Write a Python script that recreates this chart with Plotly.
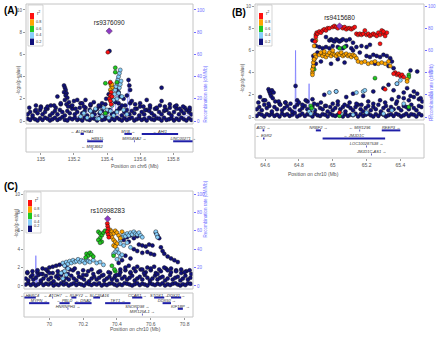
import plotly.graph_objects as go

W, H = 440, 337

# ======================= DATA =======================
# ---------- Panel A : chr6 ----------
A_bg_x = [134.92,134.935,134.95,134.965,134.98,134.995,135.01,135.025,135.04,135.055,135.07,135.085,135.10,135.115,135.13,135.145,135.16,135.175,135.19,135.205,135.22,135.235,135.25,135.265,135.28,135.295,135.31,135.325,135.34,135.355,135.37,135.385,135.40,135.415,135.43,135.445,135.46,135.475,135.49,135.505,135.52,135.535,135.55,135.565,135.58,135.595,135.61,135.625,135.64,135.655,135.67,135.685,135.70,135.715,135.73,135.745,135.76,135.775,135.79,135.805,135.82,135.835,135.85,135.865,135.88,135.895,135.91]
A_bg_low = [0.2,0.1,0.3,0.15,0.05,0.25,0.1,0.3,0.2,0.05,0.15,0.3,0.1,0.2,0.35,0.1,0.05,0.25,0.15,0.3,0.1,0.2,0.05,0.3,0.15,0.1,0.25,0.2,0.05,0.3,0.1,0.15,0.25,0.05,0.2,0.1,0.3,0.15,0.05,0.25,0.1,0.2,0.3,0.05,0.15,0.25,0.1,0.2,0.05,0.3,0.15,0.1,0.25,0.2,0.05,0.3,0.1,0.15,0.25,0.05,0.2,0.1,0.3,0.15,0.05,0.25,0.1]
A_bg_mid = [0.6,0.8,0.5,0.9,0.7,1.0,0.6,0.8,1.1,0.5,0.7,0.9,0.6,1.0,0.8,0.5,0.9,0.7,1.1,0.6,0.8,1.2,0.7,0.9,0.5,1.0,0.8,0.6,1.1,0.7,0.9,0.5,0.8,1.0,0.6,0.7,0.9,1.1,0.5,0.8,1.0,0.6,0.9,0.7,1.1,0.5,0.8,0.6,1.0,0.9,0.7,0.5,1.1,0.8,0.6,0.9,1.0,0.7,0.5,0.8,1.1,0.6,0.9,0.7,1.0,0.8,0.6]
A_hi_x = [134.93,134.97,135.0,135.03,135.06,135.09,135.12,135.18,135.21,135.24,135.27,135.3,135.33,135.36,135.39,135.45,135.48,135.51,135.54,135.57,135.6,135.63,135.66,135.69,135.72,135.75,135.78,135.81,135.84,135.87,135.9]
A_hi_y = [1.2,1.0,1.3,1.1,1.4,1.2,1.5,1.3,1.1,1.6,1.2,1.4,1.0,1.3,1.5,1.7,1.2,1.4,1.6,1.1,1.3,1.0,1.2,1.1,1.4,1.0,1.2,1.3,1.1,1.2,1.0]
A_nav_x = [135.14,135.145,135.15,135.14,135.155,135.15,135.16,135.145,135.17,135.155,135.165,135.10,135.08,135.20,135.22,135.25,135.27,135.30,135.32,135.35,135.26,135.19,135.37,135.395,135.41,135.415,135.47,135.48,135.50,135.52,135.53,135.535,135.54,135.55,135.57,135.60,135.62,135.64,135.66,135.70,135.73,135.73,135.75,135.78,135.82,135.86,135.90,135.04,135.00,134.97,135.12,135.47,135.44,135.46,135.49]
A_nav_y = [3.2,3.0,2.8,2.6,2.5,2.3,2.1,1.9,1.7,1.5,1.3,2.2,1.4,1.8,1.9,1.6,1.9,1.5,1.7,1.4,1.3,1.4,1.6,2.0,2.4,6.3,2.6,2.2,2.0,2.3,3.7,3.2,2.8,1.8,1.5,1.6,1.3,1.9,1.4,1.2,3.0,1.8,1.3,1.5,1.4,1.3,1.2,1.3,1.2,1.4,1.6,1.6,1.9,2.9,1.4]
A_lb_x = [135.24,135.26,135.28,135.30,135.31,135.33,135.34,135.36,135.37,135.38,135.39,135.40,135.41,135.42,135.43,135.44,135.445,135.45,135.455,135.46,135.465,135.47,135.475,135.48,135.46,135.47,135.475,135.48,135.485,135.49,135.50,135.52,135.44,135.46,135.35]
A_lb_y = [0.4,0.7,0.3,0.9,0.5,1.1,0.2,0.8,0.4,1.2,0.6,1.0,0.3,0.9,1.4,1.9,2.4,2.8,3.1,3.4,3.7,4.0,4.3,4.6,2.0,2.5,3.0,3.3,3.6,2.2,1.0,0.6,0.5,0.8,0.2]
A_gr_x = [135.45,135.45,135.39,135.46,135.39]
A_gr_y = [4.8,4.4,3.4,3.5,0.7]
A_or_x = [135.42,135.425,135.43,135.42,135.43]
A_or_y = [3.4,3.2,3.0,2.8,3.3]
A_rd_x = [135.405,135.42,135.425,135.42,135.415,135.42,135.425,135.43]
A_rd_y = [6.2,3.5,2.6,2.3,2.0,1.8,1.5,2.2]
A_lead_name = ["rs9376090"]
A_lead_x = [135.413]
A_lead_y = [8.1]
A_rec_x = [134.91,134.95,135.0,135.05,135.1,135.13,135.15,135.2,135.25,135.3,135.33,135.35,135.38,135.4,135.43,135.45,135.46,135.47,135.5,135.52,135.53,135.54,135.56,135.6,135.65,135.7,135.75,135.8,135.85,135.9,135.92]
A_rec_y = [2,3,1,2,4,8,2,3,5,10,3,6,2,4,12,3,40,5,8,3,35,4,2,6,3,5,2,4,3,6,2]
A_gene_name = ["← ALDH8A1","MYB →","← AHI1","← HBS1L","MIR548A2 →","LINC00271 →","← MIR3662"]
A_gene_start = [135.24,135.505,135.61,135.28,135.563,135.80,135.308]
A_gene_end = [135.26,135.55,135.83,135.375,135.567,135.92,135.312]
A_gene_row = [1,1,1,2,2,2,3]
A_tickvals = [135.0,135.2,135.4,135.6,135.8]
A_ticktext = ["135","135.2","135.4","135.6","135.8"]

# ---------- Panel B : chr10 ----------
B_bg_x = [64.55,64.565,64.58,64.595,64.61,64.625,64.64,64.655,64.67,64.685,64.70,64.715,64.73,64.745,64.76,64.775,64.79,64.805,64.82,64.835,64.85,64.865,64.88,64.895,64.91,64.925,64.94,64.955,64.97,64.985,65.00,65.015,65.03,65.045,65.06,65.075,65.09,65.105,65.12,65.135,65.15,65.165,65.18,65.195,65.21,65.225,65.24,65.255,65.27,65.285,65.30,65.315,65.33,65.345,65.36,65.375,65.39,65.405,65.42,65.435,65.45,65.465,65.48,65.495,65.51,65.525]
B_bg_low = [0.1,0.3,0.2,0.05,0.25,0.15,0.3,0.1,0.2,0.05,0.3,0.15,0.25,0.1,0.2,0.35,0.05,0.15,0.3,0.1,0.25,0.2,0.05,0.3,0.15,0.1,0.25,0.2,0.05,0.3,0.15,0.1,0.2,0.3,0.05,0.25,0.1,0.2,0.15,0.3,0.05,0.25,0.1,0.2,0.3,0.15,0.05,0.25,0.1,0.3,0.2,0.05,0.15,0.25,0.1,0.3,0.2,0.05,0.15,0.3,0.1,0.25,0.2,0.05,0.3,0.15]
B_bg_mid = [0.7,0.9,0.6,1.1,0.8,1.0,0.5,0.9,0.7,1.2,0.6,0.8,1.0,0.7,0.5,0.9,1.1,0.6,0.8,1.0,0.7,0.5,0.9,0.6,1.1,0.8,0.7,1.0,0.5,0.9,0.6,0.8,1.1,0.7,0.9,0.5,1.0,0.8,0.6,0.9,1.1,0.7,0.5,0.8,1.0,0.6,0.9,0.7,1.1,0.5,0.8,1.0,0.6,0.9,0.7,1.2,0.8,0.6,1.0,0.9,0.7,1.1,0.8,0.6,1.0,0.9]
B_hi_x = [64.56,64.59,64.62,64.66,64.69,64.72,64.75,64.79,64.82,64.85,64.89,64.93,64.96,65.0,65.03,65.07,65.1,65.14,65.17,65.21,65.24,65.28,65.31,65.35,65.38,65.42,65.45,65.48,65.51,65.53]
B_hi_y = [1.3,1.5,1.2,1.4,1.1,1.3,1.2,1.5,1.1,1.4,1.2,1.3,1.0,1.2,1.4,1.1,1.3,1.2,1.1,1.4,1.2,1.5,1.3,1.6,1.4,1.7,1.5,1.8,1.6,1.4]
B_nav_x = [64.62,64.625,64.63,64.635,64.64,64.645,64.65,64.60,64.57,64.68,64.72,64.78,64.80,64.84,64.88,64.95,65.02,65.08,65.12,65.18,65.24,65.30,65.33,65.36,65.39,65.42,65.44,65.46,65.48,65.50,65.52,65.46,65.50,65.38,
           64.98,64.99,65.00,65.01,65.02,65.03,65.04,65.05,65.06,65.08,65.10,65.12,64.96,
           64.90,64.92,64.94,64.96,64.98,65.00,65.03,65.06,65.08,65.11,65.14,65.17,65.20,65.22,65.12,65.16,64.93,64.99,65.03,65.07,
           65.20,65.22,65.24,65.26,65.28,65.30,65.32,65.34,65.35,65.33,65.25,65.36,
           64.88,64.885,64.89,64.90,64.91]
B_nav_y = [2.5,2.3,2.1,1.9,2.4,1.7,2.2,1.5,1.8,1.4,1.3,2.8,1.3,1.5,1.6,2.0,2.3,1.8,2.1,1.9,2.3,2.6,2.9,2.4,1.8,2.2,2.6,1.9,2.3,2.1,1.7,4.2,4.1,3.0,
           6.9,7.0,6.9,6.8,7.0,6.9,6.8,6.9,7.0,6.9,7.0,6.7,7.2,
           6.4,6.3,6.2,6.3,6.2,6.4,6.3,6.2,6.4,6.2,6.3,6.4,6.3,6.5,6.0,5.8,5.0,4.8,5.2,4.9,
           5.5,5.4,5.6,5.5,5.4,5.6,5.5,5.3,5.0,4.6,4.8,4.4,
           6.9,5.5,5.2,4.8,5.8]
B_lb_x = [64.98,65.02,65.14,65.18,65.19,65.38,65.40,64.86,64.87,64.88,65.12,65.20,65.30,65.35,65.42,65.05]
B_lb_y = [2.2,2.3,2.2,2.3,2.4,3.0,3.3,0.5,0.3,0.7,0.2,0.4,0.3,0.6,1.2,0.3]
B_gr_x = [64.885,64.89,65.04,65.07,65.25,65.45,65.45,64.87,64.875,65.04,65.45]
B_gr_y = [4.5,4.3,6.2,6.3,3.5,3.8,3.6,1.0,0.8,0.1,0.9]
B_or_x = [64.89,64.90,64.895,64.90,64.92,64.93,64.94,64.95,64.96,64.97,64.98,64.99,65.00,65.01,65.02,65.03,65.04,65.05,65.06,65.07,65.08,65.09,65.10,65.11,65.12,65.13,65.14,64.95,65.00,
          65.15,65.17,65.19,65.21,65.23,65.25,65.27,65.29,65.31,65.33,65.34,
          64.88,64.88,64.885,64.885,64.89,64.88,65.44,65.44]
B_or_y = [6.4,6.9,5.6,5.4,5.6,5.8,5.5,5.7,5.4,5.6,5.8,5.5,5.7,5.6,5.5,5.7,5.6,5.8,5.5,5.6,5.7,5.5,5.6,5.4,5.6,5.5,5.3,5.9,6.0,
          5.0,4.9,5.0,4.8,4.9,5.0,4.8,4.9,4.8,5.0,4.6,
          4.0,4.3,4.6,4.9,5.2,3.8,3.4,3.2]
B_rd_x = [64.90,64.905,64.91,64.92,64.93,64.94,64.95,64.96,64.97,64.98,65.00,65.01,65.02,65.03,65.05,65.06,65.07,65.08,65.09,65.10,65.11,65.12,65.13,64.90,64.895,
          65.14,65.15,65.16,65.17,65.18,65.19,65.20,65.21,65.22,65.23,65.24,65.25,65.26,65.27,65.28,65.29,65.30,65.31,65.32,65.30,
          65.37,65.38,65.39,65.40,65.41,65.42,65.36,65.31,65.28,65.04]
B_rd_y = [7.4,7.6,7.5,7.7,7.6,7.8,7.9,7.8,8.0,8.0,8.1,8.2,8.1,8.0,8.1,8.0,8.1,7.9,8.0,8.0,7.9,8.0,8.1,7.2,6.8,
          7.5,7.4,7.5,7.4,7.5,7.8,7.4,7.5,7.3,7.4,7.5,7.4,7.3,7.6,7.4,7.8,7.5,7.3,7.6,7.7,
          4.0,3.8,3.9,3.7,3.8,3.6,3.9,2.5,6.6,0.4]
B_lead_name = ["rs9415680"]
B_lead_x = [65.04]
B_lead_y = [8.2]
B_rec_x = [64.54,64.6,64.65,64.7,64.75,64.777,64.78,64.783,64.82,64.857,64.86,64.863,64.9,64.95,65.0,65.05,65.1,65.15,65.2,65.25,65.3,65.35,65.4,65.45,65.5,65.54]
B_rec_y = [1,2,1,3,2,1,60,1,2,1,30,1,2,1,3,1,2,1,2,1,3,1,2,1,2,1]
B_gene_name = ["ADO →","NRBF2 →","← MIR1296","REEP3 →","← EGR2","← JMJD1C","LOC100287538 →","JMJD1C-AS1 →"]
B_gene_start = [64.585,64.90,65.158,65.29,64.588,64.94,65.198,65.228]
B_gene_end = [64.595,64.93,65.162,65.40,64.596,65.31,65.202,65.232]
B_gene_row = [1,1,1,1,2,2,3,4]
B_tickvals = [64.6,64.8,65.0,65.2,65.4]
B_ticktext = ["64.6","64.8","65","65.2","65.4"]

# ---------- Panel C : chr10 ----------
C_bg_x = [69.86,69.875,69.89,69.905,69.92,69.935,69.95,69.965,69.98,69.995,70.01,70.025,70.04,70.055,70.07,70.085,70.10,70.115,70.13,70.145,70.16,70.175,70.19,70.205,70.22,70.235,70.25,70.265,70.28,70.295,70.31,70.325,70.34,70.355,70.37,70.385,70.40,70.415,70.43,70.445,70.46,70.475,70.49,70.505,70.52,70.535,70.55,70.565,70.58,70.595,70.61,70.625,70.64,70.655,70.67,70.685,70.70,70.715,70.73,70.745,70.76,70.775,70.79,70.805,70.82,70.835]
C_bg_low = [0.15,0.3,0.1,0.25,0.05,0.2,0.35,0.1,0.25,0.15,0.3,0.05,0.2,0.1,0.3,0.15,0.25,0.05,0.2,0.3,0.1,0.25,0.15,0.05,0.3,0.2,0.1,0.25,0.15,0.3,0.05,0.2,0.1,0.25,0.3,0.15,0.05,0.2,0.1,0.3,0.25,0.15,0.05,0.2,0.3,0.1,0.25,0.15,0.05,0.3,0.2,0.1,0.25,0.15,0.3,0.05,0.2,0.1,0.25,0.3,0.15,0.05,0.2,0.1,0.3,0.25]
C_bg_mid = [0.8,0.6,1.0,0.7,0.9,1.2,0.6,0.8,1.1,0.7,0.9,0.5,1.0,0.8,1.2,0.6,0.9,0.7,1.1,0.8,0.6,1.0,0.9,0.7,1.2,0.5,0.8,1.0,0.7,0.9,1.1,0.6,0.8,1.0,0.7,0.9,0.6,1.2,0.8,1.0,0.7,0.9,1.1,0.6,0.8,1.0,0.7,1.2,0.9,0.6,0.8,1.1,0.7,0.9,1.0,0.6,0.8,1.2,0.7,0.9,1.0,0.6,0.8,1.1,0.7,0.9]
C_hi_x = [69.87,69.9,69.93,69.96,69.99,70.02,70.05,70.08,70.11,70.14,70.17,70.2,70.23,70.26,70.29,70.32,70.36,70.39,70.42,70.45,70.48,70.51,70.54,70.57,70.6,70.63,70.66,70.69,70.72,70.75,70.78,70.81,70.84]
C_hi_y = [1.4,1.2,1.5,1.3,1.6,1.4,1.2,1.5,1.3,1.7,1.4,1.2,1.6,1.3,1.5,1.2,1.4,1.1,1.5,1.7,1.4,1.6,1.8,1.5,1.7,1.4,1.6,1.9,1.5,1.7,1.4,1.6,1.3]
C_nav_x = [69.87,69.90,69.93,69.96,69.98,70.00,70.02,70.04,70.06,70.08,70.10,69.95,70.00,70.05,70.12,70.15,70.20,70.25,70.30,70.35,70.40,70.42,70.45,70.47,70.50,70.52,70.55,70.58,70.60,70.62,70.65,70.68,70.70,70.72,70.75,70.78,70.80,70.83,70.48,70.56,70.64,
           70.44,70.46,70.48,70.50,70.52,70.47,70.53,70.55,70.57,70.59,70.61,70.63,70.64,70.65,70.66,70.67,70.68,70.70,70.72,70.74,70.76,70.50,70.52,70.55,70.58,70.60,70.62,70.45,70.43,70.41,70.48]
C_nav_y = [1.5,1.6,1.7,1.9,1.8,2.0,2.1,2.2,2.3,2.4,2.1,1.3,1.4,1.6,1.8,1.9,1.7,1.8,1.6,1.5,1.2,1.8,2.0,2.2,1.9,2.1,1.8,2.0,1.9,2.1,1.8,2.0,1.7,1.9,1.6,1.8,1.5,1.7,1.5,1.4,1.3,
           5.0,5.3,5.5,5.2,5.4,4.8,4.5,4.4,4.3,4.5,4.4,5.8,5.5,5.2,4.2,3.8,3.5,3.2,3.0,2.8,2.6,4.0,3.8,3.6,3.7,3.5,3.4,3.3,2.8,2.5,3.0]
C_lb_x = [70.08,70.09,70.10,70.11,70.12,70.13,70.14,70.15,70.16,70.17,70.18,70.19,70.20,70.21,70.22,70.23,70.24,70.26,70.28,70.30,70.32,70.09,70.10,70.08,70.11,70.07,
          70.42,70.43,70.44,70.45,70.46,70.47,70.48,70.49,70.50,70.51,70.52,70.53,70.54,70.55,70.63,70.635,70.64,70.42,70.44,70.46,70.48,70.40,70.41,70.42,70.43,70.40,70.39,70.38]
C_lb_y = [2.5,2.2,2.6,2.4,2.7,2.5,2.8,2.6,2.7,2.9,2.6,2.8,2.7,2.5,2.9,2.7,2.6,2.8,2.5,2.6,2.3,1.6,1.2,0.8,1.9,1.4,
          5.0,5.3,5.6,5.4,5.7,5.5,5.8,5.6,5.9,5.7,5.6,5.8,5.5,5.3,5.9,5.6,5.3,4.6,4.4,4.7,4.2,4.0,3.6,3.2,3.4,2.9,3.7,3.5]
C_gr_x = [70.29,70.30,70.31,70.30,70.29,70.31,70.32,70.33,70.30,70.22,70.23,70.24,70.25,70.26,70.215,70.37,70.38,70.39,70.385]
C_gr_y = [5.9,5.7,5.5,5.2,5.0,4.8,5.8,6.0,4.7,3.5,3.3,3.6,3.4,3.2,3.1,2.2,3.3,1.6,1.8]
C_or_x = [70.36,70.37,70.38,70.39,70.40,70.41,70.37,70.38,70.39,70.40,70.38,70.39,70.42,70.43,70.36]
C_or_y = [6.1,5.9,5.7,6.0,5.8,5.5,5.3,5.0,4.8,4.6,4.4,4.3,5.2,5.9,5.6]
C_rd_x = [70.343,70.345,70.348,70.343,70.348,70.352]
C_rd_y = [6.8,6.5,6.2,5.9,5.6,5.3]
C_lead_name = ["rs10998283"]
C_lead_x = [70.345]
C_lead_y = [7.3]
C_rec_x = [69.85,69.88,69.9,69.917,69.92,69.923,69.93,69.933,69.94,69.97,70.0,70.05,70.1,70.15,70.2,70.25,70.3,70.35,70.4,70.45,70.5,70.55,70.6,70.65,70.7,70.75,70.8,70.85]
C_rec_y = [1,2,1,1,33,1,18,1,2,1,2,1,2,1,1,2,1,2,1,2,1,2,1,2,1,2,1,1]
C_gene_name = ["← HERC4","← ATOH7","← RUFY2","← SLC25A16","CCAR1 →","STOX1 →","DDX21 →",
               "MYPN →","← PBLD","← DNA2","TET1 →","DDX50 →",
               "HNRNPH3 →","SNORD98 →","KIF1BP →","MIR1254-1 →"]
C_gene_start = [69.85,70.018,70.13,70.26,70.49,70.62,70.72,69.88,70.06,70.15,70.33,70.67,70.108,70.518,70.76,70.548]
C_gene_end = [69.92,70.022,70.16,70.30,70.55,70.68,70.78,70.00,70.12,70.25,70.48,70.72,70.112,70.522,70.79,70.552]
C_gene_row = [1,1,1,1,1,1,1,2,2,2,2,2,3,3,3,4]
C_tickvals = [70.0,70.2,70.4,70.6,70.8]
C_ticktext = ["70","70.2","70.4","70.6","70.8"]

# ======================= STYLE =======================
NAVY = '#10107a'
LBLUE = '#87cefa'
GREEN = '#20c820'
ORANGE = '#ffa500'
RED = '#ff1010'
PURPLE = '#8e3bc4'
REC = 'rgba(120,120,255,0.8)'
GENE = '#1f1fa8'
FONT = 'Liberation Sans, Arial, DejaVu Sans, sans-serif'
GREY = '#555555'
BLUE_T = '#7070ff'

fig = go.Figure()
layout = dict(width=W, height=H, margin=dict(l=0, r=0, t=0, b=0), autosize=False,
              paper_bgcolor='white', plot_bgcolor='white', showlegend=False,
              font=dict(family=FONT, size=5, color=GREY))
shapes, annots = [], []


def akey(a):
    return ('xaxis' if a[0] == 'x' else 'yaxis') + a[1:]


def pts(xs, ys, color, xa, ya, size=4.0, symbol='circle'):
    n = min(len(xs), len(ys))
    fig.add_trace(go.Scatter(x=xs[:n], y=ys[:n], mode='markers', xaxis=xa, yaxis=ya,
                             marker=dict(color=color, size=size, symbol=symbol,
                                         line=dict(color='#111', width=0.45)),
                             hoverinfo='skip'))


panels = [
    dict(letter='(A)', lpos=(2, 10), ids=('x', 'x2', 'y', 'y2', 'y3'),
         box=(26, 193, 4, 124), gbox=(128, 152), xr=[134.91, 135.92], yr=[-0.27, 10.54],
         chrom='chr6', tlab_y=166, rt=12,
         d=dict(bg_x=A_bg_x, bg_low=A_bg_low, bg_mid=A_bg_mid, hi_x=A_hi_x, hi_y=A_hi_y,
                nav=(A_nav_x, A_nav_y), lb=(A_lb_x, A_lb_y), gr=(A_gr_x, A_gr_y),
                orr=(A_or_x, A_or_y), rd=(A_rd_x, A_rd_y),
                lead=(A_lead_name, A_lead_x, A_lead_y), rec=(A_rec_x, A_rec_y),
                genes=(A_gene_name, A_gene_start, A_gene_end, A_gene_row),
                ticks=(A_tickvals, A_ticktext))),
    dict(letter='(B)', lpos=(230, 12), ids=('x3', 'x4', 'y4', 'y5', 'y6'),
         box=(255, 424, 4, 120), gbox=(124, 158), xr=[64.54, 65.54], yr=[-0.27, 10.18],
         chrom='chr10', tlab_y=174, rt=12,
         d=dict(bg_x=B_bg_x, bg_low=B_bg_low, bg_mid=B_bg_mid, hi_x=B_hi_x, hi_y=B_hi_y,
                nav=(B_nav_x, B_nav_y), lb=(B_lb_x, B_lb_y), gr=(B_gr_x, B_gr_y),
                orr=(B_or_x, B_or_y), rd=(B_rd_x, B_rd_y),
                lead=(B_lead_name, B_lead_x, B_lead_y), rec=(B_rec_x, B_rec_y),
                genes=(B_gene_name, B_gene_start, B_gene_end, B_gene_row),
                ticks=(B_tickvals, B_ticktext))),
    dict(letter='(C)', lpos=(2, 187), ids=('x5', 'x6', 'y7', 'y8', 'y9'),
         box=(24, 193, 191, 289), gbox=(293, 317), xr=[69.85, 70.85], yr=[-0.33, 10.33],
         chrom='chr10', tlab_y=333, rt=12,
         d=dict(bg_x=C_bg_x, bg_low=C_bg_low, bg_mid=C_bg_mid, hi_x=C_hi_x, hi_y=C_hi_y,
                nav=(C_nav_x, C_nav_y), lb=(C_lb_x, C_lb_y), gr=(C_gr_x, C_gr_y),
                orr=(C_or_x, C_or_y), rd=(C_rd_x, C_rd_y),
                lead=(C_lead_name, C_lead_x, C_lead_y), rec=(C_rec_x, C_rec_y),
                genes=(C_gene_name, C_gene_start, C_gene_end, C_gene_row),
                ticks=(C_tickvals, C_ticktext))),
]

for p in panels:
    xm, xg, yr, yp, yg = p['ids']
    x0, x1, y0, y1 = p['box']
    g0, g1 = p['gbox']
    d = p['d']
    xdom = [x0 / W, x1 / W]
    ydom = [1 - y1 / H, 1 - y0 / H]
    gdom = [1 - g1 / H, 1 - g0 / H]
    nrows = max(d['genes'][3])

    layout[akey(xm)] = dict(domain=xdom, range=p['xr'], anchor=yr, showticklabels=False,
                            showgrid=False, zeroline=False, ticks='')
    layout[akey(xg)] = dict(domain=xdom, range=p['xr'], anchor=yg, showgrid=False, zeroline=False,
                            tickvals=d['ticks'][0], ticktext=d['ticks'][1], ticks='outside',
                            ticklen=2, tickcolor='#999', tickfont=dict(size=5, color=GREY))
    layout[akey(yr)] = dict(domain=ydom, range=[p['yr'][0] * 10, p['yr'][1] * 10], anchor=xm,
                            side='right', showgrid=False, zeroline=False,
                            tickvals=[0, 20, 40, 60, 80, 100], ticks='outside', ticklen=2,
                            tickcolor=BLUE_T, tickfont=dict(size=4.5, color=BLUE_T))
    layout[akey(yp)] = dict(range=p['yr'], overlaying=yr, anchor=xm, side='left',
                            showgrid=False, zeroline=False, tickvals=[0, 2, 4, 6, 8, 10],
                            ticks='outside', ticklen=2, tickcolor='#999',
                            tickfont=dict(size=4.5, color=GREY))
    layout[akey(yg)] = dict(domain=gdom, range=[nrows + 0.45, 0.2], anchor=xg, visible=False)

    # frames
    shapes.append(dict(type='rect', xref=f'{xm} domain', yref=f'{yr} domain', x0=0, x1=1, y0=0, y1=1,
                       line=dict(color='#c4c4c4', width=1), layer='above'))
    shapes.append(dict(type='rect', xref=f'{xg} domain', yref=f'{yg} domain', x0=0, x1=1, y0=0, y1=1,
                       line=dict(color='#c4c4c4', width=1)))

    # recombination rate
    rx, ry = d['rec']
    fig.add_trace(go.Scatter(x=rx, y=ry, mode='lines', xaxis=xm, yaxis=yr,
                             line=dict(color=REC, width=0.9), hoverinfo='skip'))

    # points
    pts(d['bg_x'], d['bg_low'], NAVY, xm, yp)
    pts(d['bg_x'], d['bg_mid'], NAVY, xm, yp)
    pts(d['hi_x'], d['hi_y'], NAVY, xm, yp)
    pts(*d['nav'], NAVY, xm, yp)
    pts(*d['lb'], LBLUE, xm, yp)
    pts(*d['gr'], GREEN, xm, yp)
    pts(*d['orr'], ORANGE, xm, yp)
    pts(*d['rd'], RED, xm, yp)
    ln, lx, ly = d['lead']
    fig.add_trace(go.Scatter(x=lx, y=ly, mode='markers+text', text=ln, textposition='top center',
                             textfont=dict(size=6.5, color='#222'), xaxis=xm, yaxis=yp,
                             marker=dict(color=PURPLE, size=5, symbol='diamond',
                                         line=dict(color='#333', width=0.4)),
                             hoverinfo='skip'))

    # genes
    gn, gs, ge, gr = d['genes']
    gx, gy = [], []
    for s, e, r in zip(gs, ge, gr):
        gx += [s, e, None]
        gy += [r, r, None]
    fig.add_trace(go.Scatter(x=gx, y=gy, mode='lines', xaxis=xg, yaxis=yg,
                             line=dict(color=GENE, width=2), hoverinfo='skip'))
    fig.add_trace(go.Scatter(x=[(s + e) / 2 for s, e in zip(gs, ge)], y=gr, mode='text', text=gn,
                             textposition='top center', xaxis=xg, yaxis=yg, cliponaxis=False,
                             textfont=dict(size=4, color='#333', style='italic'),
                             hoverinfo='skip'))

    # legend box (pixel offsets inside the plot box)
    bw, bh = x1 - x0, y1 - y0
    fx = lambda v: v / bw
    fy = lambda v: 1 - v / bh
    shapes.append(dict(type='rect', xref=f'{xm} domain', yref=f'{yr} domain',
                       x0=fx(2), x1=fx(17), y0=fy(42), y1=fy(1),
                       fillcolor='white', line=dict(color='#bbb', width=0.6), layer='above'))
    cols = [RED, ORANGE, GREEN, LBLUE, NAVY]
    for k, c in enumerate(cols):
        shapes.append(dict(type='rect', xref=f'{xm} domain', yref=f'{yr} domain',
                           x0=fx(4), x1=fx(8), y0=fy(9 + 6.4 * (k + 1)), y1=fy(9 + 6.4 * k),
                           fillcolor=c, line=dict(width=0), layer='above'))
    annots.append(dict(xref=f'{xm} domain', yref=f'{yr} domain', x=fx(9.5), y=fy(5),
                       text='r<sup>2</sup>', showarrow=False, borderpad=0,
                       font=dict(size=4.5, color='#333')))
    for k, t in enumerate(['0.8', '0.6', '0.4', '0.2']):
        annots.append(dict(xref=f'{xm} domain', yref=f'{yr} domain', x=fx(9), y=fy(9 + 6.4 * (k + 1)),
                           text=t, showarrow=False, xanchor='left', borderpad=0,
                           font=dict(size=3.8, color='#333')))

    # axis titles as annotations
    annots.append(dict(xref='paper', yref='paper', x=(x0 + x1) / 2 / W, y=1 - p['tlab_y'] / H,
                       text=f"Position on {p['chrom']} (Mb)", showarrow=False, borderpad=0,
                       font=dict(size=5, color=GREY)))
    annots.append(dict(xref='paper', yref='paper', x=(x0 - 13) / W, y=1 - (y0 + y1) / 2 / H,
                       text='-log<sub>10</sub>(p-value)', textangle=-90, showarrow=False,
                       font=dict(size=4.5, color=GREY)))
    annots.append(dict(xref='paper', yref='paper', x=(x1 + p['rt']) / W, y=1 - (y0 + y1) / 2 / H,
                       text='Recombination rate (cM/Mb)', textangle=-90, showarrow=False,
                       font=dict(size=4.5, color=BLUE_T)))
    # panel letter
    annots.append(dict(xref='paper', yref='paper', x=p['lpos'][0] / W, y=1 - p['lpos'][1] / H,
                       xanchor='left', yanchor='middle', text=f"<b>{p['letter']}</b>", showarrow=False,
                       font=dict(size=10, color='black', family=FONT)))

layout['shapes'] = shapes
layout['annotations'] = annots
fig.update_layout(**layout)
fig.write_html("out.html", config={'displayModeBar': False},
               post_script="document.body.style.margin='0';document.body.style.padding='0';")
